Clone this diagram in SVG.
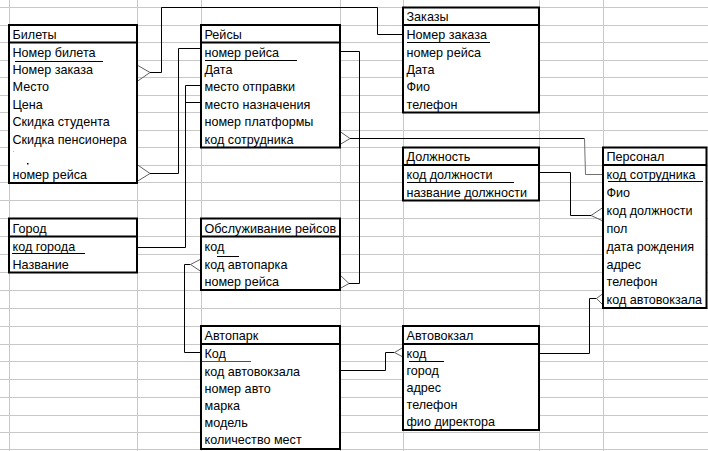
<svg xmlns="http://www.w3.org/2000/svg" width="708" height="451" viewBox="0 0 708 451">
<style>
.bg{fill:#ffffff}
.grid line{stroke:#c8c8c8;stroke-width:1}
.box{fill:#ffffff;stroke:#000000;stroke-width:2}
.sep{stroke:#000000;stroke-width:2}
.t{font-family:"Liberation Sans",Arial,sans-serif;font-size:12.6px;fill:#000000}
.ul{stroke:#000000;stroke-width:1}
.conn{fill:none;stroke:#000000;stroke-width:1}
.conn2{fill:none;stroke:#707070;stroke-width:1}
.crow{fill:none;stroke:#606060;stroke-width:1}
</style>
<rect class="bg" x="0" y="0" width="708" height="451"/>
<g id="grid" class="grid">
<line x1="0" y1="7.5" x2="708" y2="7.5"/>
<line x1="0" y1="25.5" x2="708" y2="25.5"/>
<line x1="0" y1="42.5" x2="708" y2="42.5"/>
<line x1="0" y1="60.5" x2="708" y2="60.5"/>
<line x1="0" y1="77.5" x2="708" y2="77.5"/>
<line x1="0" y1="95.5" x2="708" y2="95.5"/>
<line x1="0" y1="112.5" x2="708" y2="112.5"/>
<line x1="0" y1="130.5" x2="708" y2="130.5"/>
<line x1="0" y1="147.5" x2="708" y2="147.5"/>
<line x1="0" y1="165.5" x2="708" y2="165.5"/>
<line x1="0" y1="182.5" x2="708" y2="182.5"/>
<line x1="0" y1="200.5" x2="708" y2="200.5"/>
<line x1="0" y1="218.5" x2="708" y2="218.5"/>
<line x1="0" y1="236.5" x2="708" y2="236.5"/>
<line x1="0" y1="254.5" x2="708" y2="254.5"/>
<line x1="0" y1="272.5" x2="708" y2="272.5"/>
<line x1="0" y1="290.5" x2="708" y2="290.5"/>
<line x1="0" y1="308.5" x2="708" y2="308.5"/>
<line x1="0" y1="326.5" x2="708" y2="326.5"/>
<line x1="0" y1="344.5" x2="708" y2="344.5"/>
<line x1="0" y1="361.5" x2="708" y2="361.5"/>
<line x1="0" y1="379.5" x2="708" y2="379.5"/>
<line x1="0" y1="397.5" x2="708" y2="397.5"/>
<line x1="0" y1="415.5" x2="708" y2="415.5"/>
<line x1="0" y1="432.5" x2="708" y2="432.5"/>
<line x1="0" y1="449.5" x2="708" y2="449.5"/>
<line x1="9.5" y1="0" x2="9.5" y2="451"/>
<line x1="137.5" y1="0" x2="137.5" y2="451"/>
<line x1="201.5" y1="0" x2="201.5" y2="451"/>
<line x1="340.5" y1="0" x2="340.5" y2="451"/>
<line x1="403.5" y1="0" x2="403.5" y2="451"/>
<line x1="539.5" y1="0" x2="539.5" y2="451"/>
<line x1="603.5" y1="0" x2="603.5" y2="451"/>
</g>

<g id="connectors">
<path class="crow" d="M137,65 L150,72.5 L137,81.5"/>
<path class="conn" d="M150,72.5 H161.5 V7.5 H377.5 V34.5 H403"/>
<path class="crow" d="M137,164.5 L150,173.5 L137,181.5"/>
<path class="conn" d="M150,173.5 H178.5 V48.5 H201"/>
<path class="conn" d="M137,247.5 H185.5 V85.5 H201 M185.5,102.5 H201"/>
<path class="conn" d="M340,51.5 H359.5 V283.5 H349"/>
<path class="crow" d="M340,275 L349,283.5 L340,288.5"/>
<path class="crow" d="M340,131.5 L350,138.5 L340,144.5"/>
<path class="conn" d="M350,138.5 H584.5"/>
<path class="conn2" d="M584.5,138.5 L585.5,174.5 H603"/>
<path class="conn" d="M539,172.5 H570.5 V215.5 H591"/>
<path class="crow" d="M603,207.5 L591,215.5 L603,221"/>
<path class="conn" d="M539,353.5 H589.5 V298.5 H596.5"/>
<path class="crow" d="M603,293.5 L596.5,298.5 L603,305"/>
<path class="conn" d="M340,370.5 H385.5 V352.5 H394.5"/>
<path class="crow" d="M403,347.5 L394.5,352.5 L403,357"/>
<path class="conn" d="M201,352.5 H184.5 V264.5 H190.5"/>
<path class="crow" d="M201,259 L190.5,264.5 L201,271.5"/>
</g>

<g id="bilety">
<rect class="box" x="9" y="25" width="128" height="158"/>
<line class="sep" x1="9" y1="42.5" x2="137" y2="42.5"/>
<text class="t" x="12.5" y="38.5">Билеты</text>
<text class="t" x="12.5" y="56.5">Номер билета</text>
<line class="ul" x1="15" y1="61.5" x2="103" y2="61.5"/>
<text class="t" x="12.5" y="73.5">Номер заказа</text>
<text class="t" x="12.5" y="91">Место</text>
<text class="t" x="12.5" y="108.5">Цена</text>
<text class="t" x="12.5" y="126">Скидка студента</text>
<text class="t" x="12.5" y="143.5">Скидка пенсионера</text>
<rect x="13" y="151" width="1" height="1" fill="#d8c040"/>
<rect x="27" y="163" width="1.5" height="1.5" fill="#000000"/>
<text class="t" x="12.5" y="178.5">номер рейса</text>
</g>

<g id="reisy">
<rect class="box" x="201" y="25" width="139" height="122.5"/>
<line class="sep" x1="201" y1="42.5" x2="340" y2="42.5"/>
<text class="t" x="204.5" y="38.5">Рейсы</text>
<text class="t" x="204.5" y="56.5">номер рейса</text>
<line class="ul" x1="205" y1="60.5" x2="297" y2="60.5"/>
<text class="t" x="204.5" y="73.5">Дата</text>
<text class="t" x="204.5" y="91">место отправки</text>
<text class="t" x="204.5" y="108.5">место назначения</text>
<text class="t" x="204.5" y="126">номер платформы</text>
<text class="t" x="204.5" y="143.5">код сотрудника</text>
</g>

<g id="zakazy">
<rect class="box" x="403" y="7.5" width="136" height="105"/>
<line class="sep" x1="403" y1="25" x2="539" y2="25"/>
<text class="t" x="406.5" y="21">Заказы</text>
<text class="t" x="406.5" y="38.5">Номер заказа</text>
<line class="ul" x1="407" y1="42.5" x2="490" y2="42.5"/>
<text class="t" x="406.5" y="56.5">номер рейса</text>
<text class="t" x="406.5" y="73.5">Дата</text>
<text class="t" x="406.5" y="91">Фио</text>
<text class="t" x="406.5" y="108.5">телефон</text>
</g>

<g id="dolzhnost">
<rect class="box" x="403" y="147.5" width="136" height="53"/>
<line class="sep" x1="403" y1="165" x2="539" y2="165"/>
<text class="t" x="406.5" y="161">Должность</text>
<text class="t" x="406.5" y="178.5">код должности</text>
<line class="ul" x1="407" y1="182.5" x2="514" y2="182.5"/>
<text class="t" x="406.5" y="196.5">название должности</text>
</g>

<g id="personal">
<rect class="box" x="603" y="147.5" width="103.5" height="160.5"/>
<line class="sep" x1="603" y1="165" x2="706.5" y2="165"/>
<text class="t" x="606.5" y="161">Персонал</text>
<text class="t" x="606.5" y="178.5">код сотрудника</text>
<line class="ul" x1="608" y1="181.5" x2="703" y2="181.5"/>
<text class="t" x="606.5" y="196.5">Фио</text>
<text class="t" x="606.5" y="214.5">код должности</text>
<text class="t" x="606.5" y="232.5">пол</text>
<text class="t" x="606.5" y="250.5">дата рождения</text>
<text class="t" x="606.5" y="268.5">адрес</text>
<text class="t" x="606.5" y="286">телефон</text>
<text class="t" x="606.5" y="304">код автовокзала</text>
</g>

<g id="gorod">
<rect class="box" x="9" y="218.5" width="128" height="54"/>
<line class="sep" x1="9" y1="236.5" x2="137" y2="236.5"/>
<text class="t" x="12.5" y="232.5">Город</text>
<text class="t" x="12.5" y="250.5">код города</text>
<line class="ul" x1="12" y1="253.5" x2="85" y2="253.5"/>
<text class="t" x="12.5" y="268.5">Название</text>
</g>

<g id="obsluzhivanie">
<rect class="box" x="201" y="218.5" width="139" height="71.5"/>
<line class="sep" x1="201" y1="236.5" x2="340" y2="236.5"/>
<text class="t" x="204.5" y="232.5">Обслуживание рейсов</text>
<text class="t" x="204.5" y="250.5">код</text>
<line class="ul" x1="217" y1="256.5" x2="239" y2="256.5"/>
<text class="t" x="204.5" y="268.5">код автопарка</text>
<text class="t" x="204.5" y="286">номер рейса</text>
</g>

<g id="avtopark">
<rect class="box" x="201" y="326" width="139" height="123"/>
<line class="sep" x1="201" y1="344" x2="340" y2="344"/>
<text class="t" x="204.5" y="340">Автопарк</text>
<text class="t" x="204.5" y="358">Код</text>
<line x1="202" y1="361.5" x2="251" y2="361.5" stroke="#505050" stroke-width="1"/>
<text class="t" x="204.5" y="375.5">код автовокзала</text>
<text class="t" x="204.5" y="392.5">номер авто</text>
<text class="t" x="204.5" y="410">марка</text>
<text class="t" x="204.5" y="427">модель</text>
<text class="t" x="204.5" y="444">количество мест</text>
</g>

<g id="avtovokzal">
<rect class="box" x="403" y="326" width="136" height="104"/>
<line class="sep" x1="403" y1="344" x2="539" y2="344"/>
<text class="t" x="406.5" y="340">Автовокзал</text>
<text class="t" x="406.5" y="357.5">код</text>
<line class="ul" x1="409" y1="361.5" x2="444" y2="361.5"/>
<text class="t" x="406.5" y="375">город</text>
<text class="t" x="406.5" y="392">адрес</text>
<text class="t" x="406.5" y="408.5">телефон</text>
<text class="t" x="406.5" y="425.5">фио директора</text>
</g>
</svg>
